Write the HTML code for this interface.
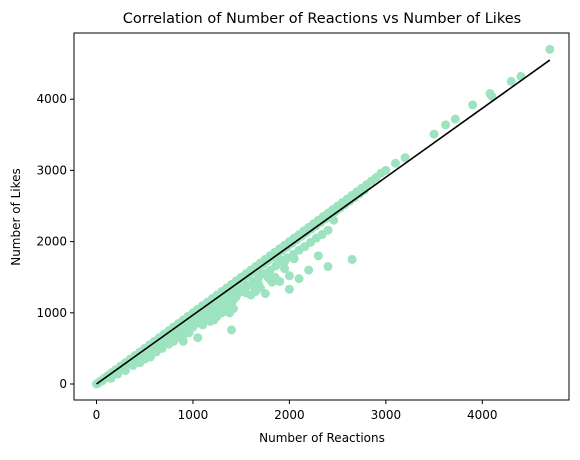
<!DOCTYPE html>
<html><head><meta charset="utf-8"><style>
html,body{margin:0;padding:0;background:#fff;}
svg text{font-family:"DejaVu Sans","Liberation Sans",sans-serif;fill:#000;}
</style></head><body>
<svg id="chart" width="580" height="455" viewBox="0 0 580 455">
<rect width="580" height="455" fill="#fff"/>
<text x="322" y="23" font-size="14.5" text-anchor="middle">Correlation of Number of Reactions vs Number of Likes</text>
<g id="points"></g>
<g id="fit"></g>
<rect x="74" y="33" width="495" height="367" fill="none" stroke="#000" stroke-width="1"/>
<g id="axes"></g>
<text x="322" y="442" font-size="12" text-anchor="middle">Number of Reactions</text>
<text x="0" y="0" font-size="12" text-anchor="middle" transform="translate(20,217) rotate(-90)">Number of Likes</text>
</svg>
<script>
const xTicks=[0,1000,2000,3000,4000];
const yTicks=[0,1000,2000,3000,4000];
const diagReactions=[0,40,80,120,160,200,250,300,350,400,450,500,550,600,650,700,750,800,850,900,950,1000,1050,1100,1150,1200,1250,1300,1350,1400,1450,1500,1550,1600,1650,1700,1750,1800,1850,1900,1950,2000,2050,2100,2150,2200,2250,2300,2350,2400,2450,2500,2550,2600,2650,2700,2750,2800];
const diagLikes=[0,40,80,120,160,200,250,300,350,400,450,500,550,600,650,700,750,800,850,900,950,1000,1050,1100,1150,1200,1250,1300,1350,1400,1450,1500,1550,1600,1650,1700,1750,1800,1850,1900,1950,2000,2050,2100,2150,2200,2250,2300,2350,2400,2450,2500,2550,2600,2650,2700,2750,2800];
const diag2Reactions=[20,60,100,140,180,225,275,325,375,425,475,525,575,625,675,725,775,825,875,925,975,1025,1075,1125,1175,1225,1275,1325,1375,1425,1475,1525,1575,1625,1675,1725,1775,1825,1875,1925,1975,2025,2075,2125,2175,2225,2275,2325,2375,2425,2475,2525,2575,2625,2675,2725,2775];
const diag2Likes=[15,50,90,130,165,210,260,310,355,405,455,505,555,600,650,700,750,800,850,895,945,995,1045,1095,1140,1190,1240,1290,1335,1385,1435,1485,1530,1580,1630,1680,1730,1780,1825,1875,1925,1975,2025,2075,2125,2175,2220,2270,2320,2370,2420,2470,2520,2570,2620,2670,2720];
const bandReactions=[60,120,180,240,300,360,420,480,540,600,660,720,780,840,900,960,1020,1080,1140,1200,1260,1320,1380,1440,1500,1560,1620,1680,1740,1800,1860,1920,1980,2040,2100,2160,2220,2280,2340,2400,2460];
const bandLikes=[45,95,150,200,255,310,360,415,470,520,575,630,680,735,790,845,900,955,1005,1060,1115,1170,1225,1280,1330,1385,1440,1495,1550,1600,1660,1710,1770,1820,1880,1930,1990,2050,2100,2160,2300];
const cloudReactions=[150,220,300,380,450,500,560,620,680,750,800,850,900,960,1000,1050,1100,1150,1180,1200,1230,1250,1280,1300,1330,1350,1370,1200,1150,1250,1300,1380,1420,1450,1500,1550,1600,1650,1700,1750,1800,1850,1900,1950,2000,2050,2100,2200,2400,2650,1400,1820,1780,1720,1680,1620,1900,2000,1950,2300,1050,1000,900,1100,1250,1300,1350,1400,1320,1280,1220,1180,1120,1080,1380,1420,1150,1240];
const cloudLikes=[80,140,190,260,300,350,380,450,500,560,600,660,680,720,800,860,900,950,1000,1050,1100,1150,1180,1200,1230,1250,1270,980,920,1020,1050,1120,1180,1230,1300,1280,1250,1300,1350,1270,1470,1500,1440,1720,1330,1760,1480,1600,1650,1750,760,1430,1500,1550,1400,1380,1750,1520,1620,1800,650,860,600,830,950,1000,1050,1100,1150,1080,900,880,900,940,1000,1060,1000,1100];
const topReactions=[2850,2900,2950,3000,3100,3200,3500,3620,3720,3900,4080,4100,4300,4400,4700];
const topLikes=[2850,2900,2960,3000,3100,3180,3510,3640,3720,3920,4080,4040,4250,4320,4700];
const fitX=[0,4700];
const fitY=[0,4550];

const X=v=>96.5+v*0.09645;
const Y=v=>384-v*0.0712;
const NS='http://www.w3.org/2000/svg';
const pts=document.getElementById('points');
function addPts(xs,ys){
  for(let i=0;i<xs.length;i++){
    const c=document.createElementNS(NS,'circle');
    c.setAttribute('cx',X(xs[i]));c.setAttribute('cy',Y(ys[i]));c.setAttribute('r',4.5);
    c.setAttribute('fill','#9de3c0');
    
    
    pts.appendChild(c);
  }
}
addPts(diagReactions,diagLikes);
addPts(diag2Reactions,diag2Likes);
addPts(bandReactions,bandLikes);
addPts(cloudReactions,cloudLikes);
addPts(topReactions,topLikes);
const ln=document.createElementNS(NS,'line');
ln.setAttribute('x1',X(fitX[0]));ln.setAttribute('y1',Y(fitY[0]));
ln.setAttribute('x2',X(fitX[1]));ln.setAttribute('y2',Y(fitY[1]));
ln.setAttribute('stroke','#000');ln.setAttribute('stroke-width','1.6');


document.getElementById('fit').appendChild(ln);
const ax=document.getElementById('axes');
xTicks.forEach(t=>{
  const l=document.createElementNS(NS,'line');
  l.setAttribute('x1',X(t));l.setAttribute('x2',X(t));l.setAttribute('y1',400);l.setAttribute('y2',404);l.setAttribute('stroke','#000');
  
  
  ax.appendChild(l);
  const tx=document.createElementNS(NS,'text');
  tx.setAttribute('x',X(t));tx.setAttribute('y',419);tx.setAttribute('font-size','12');tx.setAttribute('text-anchor','middle');
  tx.textContent=t;
  
  
  ax.appendChild(tx);
});
yTicks.forEach(t=>{
  const l=document.createElementNS(NS,'line');
  l.setAttribute('x1',70);l.setAttribute('x2',74);l.setAttribute('y1',Y(t));l.setAttribute('y2',Y(t));l.setAttribute('stroke','#000');
  
  
  ax.appendChild(l);
  const tx=document.createElementNS(NS,'text');
  tx.setAttribute('x',67);tx.setAttribute('y',Y(t)+4);tx.setAttribute('font-size','12');tx.setAttribute('text-anchor','end');
  tx.textContent=t;
  
  
  ax.appendChild(tx);
});
</script>
</body></html>
